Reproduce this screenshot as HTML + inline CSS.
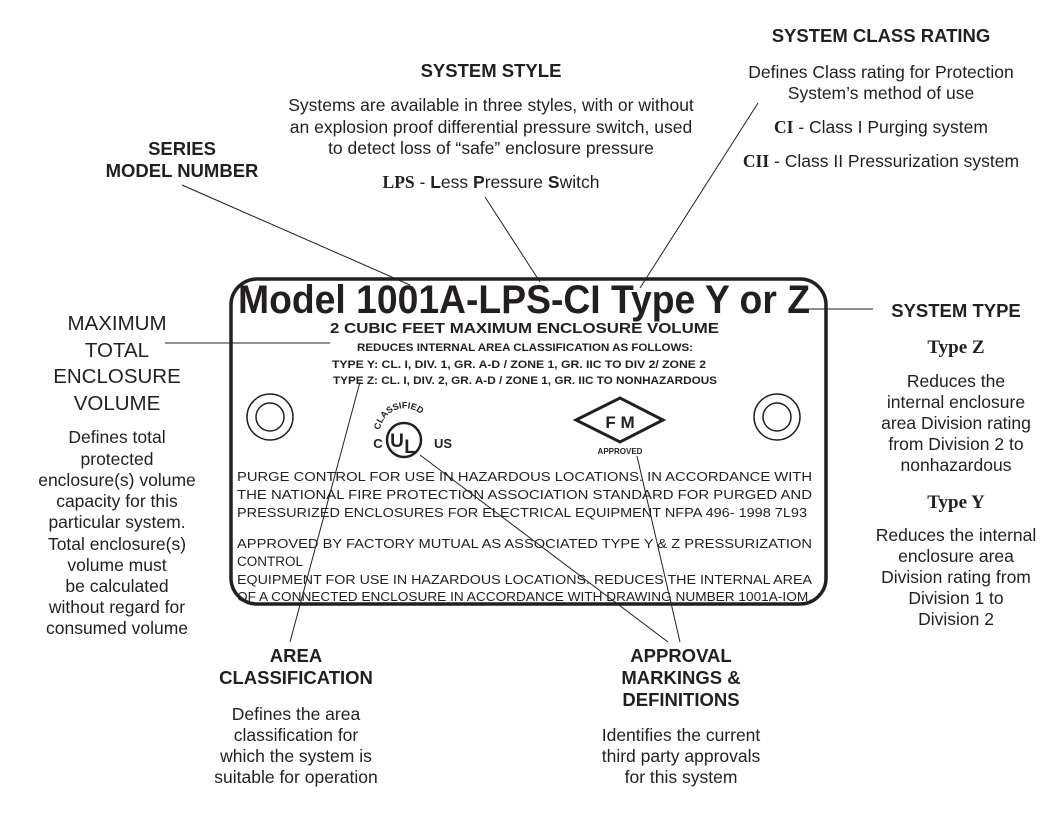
<!DOCTYPE html>
<html><head><meta charset="utf-8"><style>
html,body{margin:0;padding:0;background:#fff;}
svg{display:block;}
text{font-family:"Liberation Sans",sans-serif;fill:#231f20;}
.b{font-weight:bold;}
.s{font-family:"Liberation Serif",serif;font-weight:bold;}
</style></head><body>
<svg width="1053" height="819" viewBox="0 0 1053 819" xmlns="http://www.w3.org/2000/svg">
<defs><path id="arc" d="M380,430 A25,25 0 0 1 426,420"/></defs>
<g stroke="#231f20" stroke-width="1" fill="none">
<line x1="182" y1="185" x2="410" y2="285"/>
<line x1="485" y1="197" x2="540" y2="282"/>
<line x1="758" y1="103" x2="640" y2="288"/>
<line x1="165" y1="343" x2="330" y2="343"/>
<line x1="808" y1="309" x2="873" y2="309"/>
<line x1="290" y1="642" x2="360" y2="382"/>
<line x1="420" y1="455" x2="668" y2="642"/>
<line x1="637" y1="456" x2="680" y2="642"/>
</g>
<rect x="231" y="279" width="595" height="325" rx="26" ry="26" fill="none" stroke="#231f20" stroke-width="3.5"/>
<g fill="none" stroke="#231f20" stroke-width="1.5">
<circle cx="270" cy="417" r="23"/><circle cx="270" cy="417" r="14"/>
<circle cx="777" cy="417" r="23"/><circle cx="777" cy="417" r="14"/>
<circle cx="404" cy="440" r="17" stroke-width="2.5"/>
<polygon points="576,420 620,398 663,420 620,442" stroke-width="3"/>
</g>
<text x="397" y="447" class="b" font-size="19" text-anchor="middle">U</text>
<text x="410" y="453" class="b" font-size="19" text-anchor="middle">L</text>
<text x="378" y="448" class="b" font-size="13" text-anchor="middle">C</text>
<text x="443" y="448" class="b" font-size="13" text-anchor="middle">US</text>
<text class="b" font-size="9"><textPath href="#arc">CLASSIFIED</textPath></text>
<text x="620" y="428" class="b" font-size="17" text-anchor="middle">F M</text>
<text x="620" y="454" class="b" font-size="8" text-anchor="middle">APPROVED</text>

<text x="238" y="313" class="b" font-size="40" textLength="572" lengthAdjust="spacingAndGlyphs">Model 1001A-LPS-CI Type Y or Z</text>
<text x="330" y="333" class="b" font-size="15" textLength="389" lengthAdjust="spacingAndGlyphs">2 CUBIC FEET MAXIMUM ENCLOSURE VOLUME</text>
<text x="357" y="351" class="b" font-size="11" textLength="336" lengthAdjust="spacingAndGlyphs">REDUCES INTERNAL AREA CLASSIFICATION AS FOLLOWS:</text>
<text x="332" y="368" class="b" font-size="11" textLength="374" lengthAdjust="spacingAndGlyphs">TYPE Y: CL. I, DIV. 1, GR. A-D / ZONE 1, GR. IIC TO DIV 2/ ZONE 2</text>
<text x="333" y="384" class="b" font-size="11" textLength="384" lengthAdjust="spacingAndGlyphs">TYPE Z: CL. I, DIV. 2, GR. A-D / ZONE 1, GR. IIC TO NONHAZARDOUS</text>
<g font-size="13">
<text x="237" y="481" textLength="575" lengthAdjust="spacingAndGlyphs">PURGE CONTROL FOR USE IN HAZARDOUS LOCATIONS. IN ACCORDANCE WITH</text>
<text x="237" y="499" textLength="575" lengthAdjust="spacingAndGlyphs">THE NATIONAL FIRE PROTECTION  ASSOCIATION STANDARD FOR PURGED AND</text>
<text x="237" y="517" textLength="570" lengthAdjust="spacingAndGlyphs">PRESSURIZED ENCLOSURES FOR ELECTRICAL EQUIPMENT NFPA 496- 1998 7L93</text>
<text x="237" y="548" textLength="575" lengthAdjust="spacingAndGlyphs">APPROVED BY FACTORY MUTUAL AS ASSOCIATED TYPE Y &amp;  Z PRESSURIZATION</text>
<text x="237" y="566" font-size="13.5">CONTROL</text>
<text x="237" y="584" textLength="575" lengthAdjust="spacingAndGlyphs">EQUIPMENT FOR USE IN HAZARDOUS LOCATIONS. REDUCES THE INTERNAL AREA</text>
<text x="237" y="601" textLength="575" lengthAdjust="spacingAndGlyphs">OF A CONNECTED ENCLOSURE IN ACCORDANCE WITH DRAWING NUMBER 1001A-IOM.</text>
</g>

<g text-anchor="middle">
<text x="182" y="155" class="b" font-size="18.5">SERIES</text>
<text x="182" y="177" class="b" font-size="18.5">MODEL NUMBER</text>

<text x="491" y="77" class="b" font-size="18.5">SYSTEM STYLE</text>
<g font-size="17.5">
<text x="491" y="111">Systems are available in three styles, with or without</text>
<text x="491" y="133">an explosion proof differential pressure switch, used</text>
<text x="491" y="154">to detect loss of “safe” enclosure pressure</text>
<text x="491" y="188"><tspan class="s">LPS</tspan> - <tspan class="b">L</tspan>ess <tspan class="b">P</tspan>ressure <tspan class="b">S</tspan>witch</text>
</g>

<text x="881" y="42" class="b" font-size="18.5">SYSTEM CLASS RATING</text>
<g font-size="17.5">
<text x="881" y="78">Defines Class rating for Protection</text>
<text x="881" y="99">System’s method of use</text>
<text x="881" y="133"><tspan class="s">CI</tspan> - Class I Purging system</text>
<text x="881" y="167"><tspan class="s">CII</tspan> - Class II Pressurization system</text>
</g>

<text x="956" y="317" class="b" font-size="18.5">SYSTEM TYPE</text>
<text x="956" y="353" class="s" font-size="19">Type Z</text>
<g font-size="17.5">
<text x="956" y="387">Reduces the</text>
<text x="956" y="408">internal enclosure</text>
<text x="956" y="429">area Division rating</text>
<text x="956" y="450">from Division 2 to</text>
<text x="956" y="471">nonhazardous</text>
</g>
<text x="956" y="508" class="s" font-size="19">Type Y</text>
<g font-size="17.5">
<text x="956" y="541">Reduces the internal</text>
<text x="956" y="562">enclosure area</text>
<text x="956" y="583">Division rating from</text>
<text x="956" y="604">Division 1 to</text>
<text x="956" y="625">Division 2</text>
</g>

<g font-size="20.5">
<text x="117" y="330">MAXIMUM</text>
<text x="117" y="357">TOTAL</text>
<text x="117" y="383">ENCLOSURE</text>
<text x="117" y="410">VOLUME</text>
</g>
<g font-size="17.5">
<text x="117" y="443">Defines total</text>
<text x="117" y="465">protected</text>
<text x="117" y="486">enclosure(s) volume</text>
<text x="117" y="507">capacity for this</text>
<text x="117" y="528">particular system.</text>
<text x="117" y="550">Total enclosure(s)</text>
<text x="117" y="571">volume must</text>
<text x="117" y="592">be calculated</text>
<text x="117" y="613">without regard for</text>
<text x="117" y="634">consumed volume</text>
</g>

<text x="296" y="662" class="b" font-size="18.5">AREA</text>
<text x="296" y="684" class="b" font-size="18.5">CLASSIFICATION</text>
<g font-size="17.5">
<text x="296" y="720">Defines the area</text>
<text x="296" y="741">classification for</text>
<text x="296" y="762">which the system is</text>
<text x="296" y="783">suitable for operation</text>
</g>

<text x="681" y="662" class="b" font-size="18.5">APPROVAL</text>
<text x="681" y="684" class="b" font-size="18.5">MARKINGS &amp;</text>
<text x="681" y="706" class="b" font-size="18.5">DEFINITIONS</text>
<g font-size="17.5">
<text x="681" y="741">Identifies the current</text>
<text x="681" y="762">third party approvals</text>
<text x="681" y="783">for this system</text>
</g>
</g>
</svg>
</body></html>
